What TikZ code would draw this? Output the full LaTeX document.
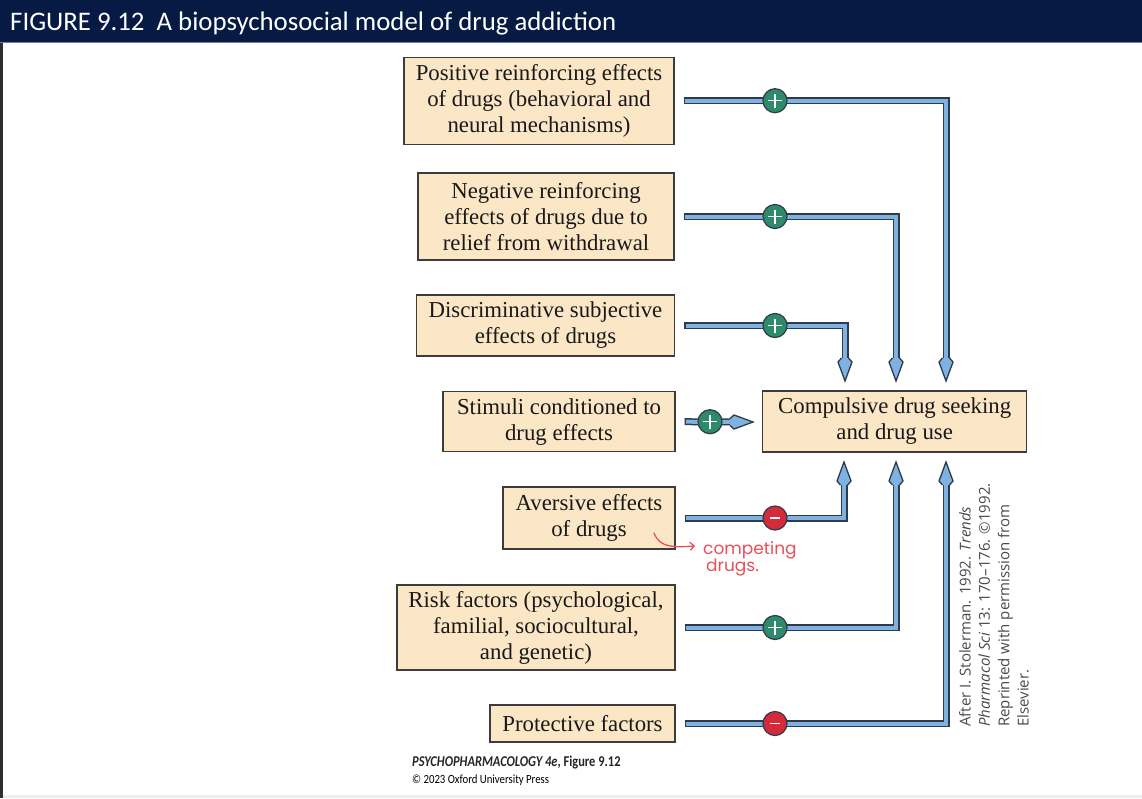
\documentclass[tikz,border=0pt]{standalone}
\usepackage{fontspec}
\usepackage{graphicx}
\setmainfont{Liberation Serif}
\newfontfamily\carlito{Carlito}
\newfontfamily\opensans{Open Sans}
\newfontfamily\handfont{Poppins}
\usetikzlibrary{calc,arrows.meta}
\definecolor{navy}{HTML}{061A44}
\definecolor{boxfill}{HTML}{FBE6C6}
\definecolor{boxdraw}{HTML}{3C3C3C}
\definecolor{pipefill}{HTML}{7FB2E0}
\definecolor{pipeedge}{HTML}{2E3B4A}
\definecolor{plusgreen}{HTML}{2F8A6C}
\definecolor{minusred}{HTML}{D42B3A}
\definecolor{annot}{HTML}{E8505A}
\definecolor{credgray}{HTML}{4A4A4A}
\tikzset{
  box/.style={draw=boxdraw, fill=boxfill, line width=1.1pt, align=center,
    font=\fontsize{22.8}{26}\selectfont, inner sep=0pt, text=black!90},
  pipe/.style={draw=pipefill, line width=4pt, shorten <=1.5pt,
    preaction={draw=pipeedge, line width=7pt, shorten <=0pt}},
  signnode/.style={circle, minimum size=24pt, inner sep=0pt, draw=pipeedge, line width=1.2pt},
  plus/.style={signnode, fill=plusgreen,
    path picture={\draw[white, line width=1.5pt]
      ([xshift=-7pt]path picture bounding box.center) -- ([xshift=7pt]path picture bounding box.center)
      ([yshift=-7pt]path picture bounding box.center) -- ([yshift=7pt]path picture bounding box.center);}},
  minus/.style={signnode, fill=minusred,
    path picture={\draw[white, line width=1.8pt]
      ([xshift=-5pt]path picture bounding box.center) -- ([xshift=5pt]path picture bounding box.center);}},
  arrowdown/.pic={
    \fill[pipefill] (0,0) -- (-7,-19) -- (-3.5,-23) -- (3.5,-23) -- (7,-19) -- cycle;
    \draw[pipeedge, line width=1.3pt, line join=miter] (-3.5,-23) -- (-7,-19) -- (0,0) -- (7,-19) -- (3.5,-23);},
  arrowup/.pic={
    \fill[pipefill] (0,0) -- (-7,19) -- (-3.5,23) -- (3.5,23) -- (7,19) -- cycle;
    \draw[pipeedge, line width=1.3pt, line join=miter] (-3.5,23) -- (-7,19) -- (0,0) -- (7,19) -- (3.5,23);},
  arrowright/.pic={
    \fill[pipefill] (0,0) -- (-19,-7) -- (-23,-3.5) -- (-23,3.5) -- (-19,7) -- cycle;
    \draw[pipeedge, line width=1.3pt, line join=miter] (-23,-3.5) -- (-19,-7) -- (0,0) -- (-19,7) -- (-23,3.5);},
  credit/.style={font=\opensans\fontsize{15}{19.3}\selectfont, text=credgray, align=left, inner sep=0pt},
  hand/.style={font=\handfont\fontsize{17}{17}\selectfont, text=annot, inner sep=0pt},
}
\begin{document}
\begin{tikzpicture}[x=1pt,y=-1pt]
\useasboundingbox (0,0) rectangle (1142,798);
\fill[white] (0,0) rectangle (1142,798);
\fill[navy] (0,0) rectangle (1142,43);
\draw[navy!55, line width=0.8pt] (0,42.6) -- (1142,42.6);
\fill[black!82] (0,43) rectangle (3,798);
\fill[black!7] (3,795) rectangle (1142,798);

\node[anchor=base west, text=white, font=\carlito\fontsize{26.8}{26.8}\selectfont, inner sep=0pt]
  (title) at (10,30) {FIGURE 9.12\hspace{0.45em}A biopsychosocial model of drug addiction};

% boxes
\node[box, minimum width=270pt, minimum height=87pt] (pos) at (539,100.7)
  {Positive reinforcing effects\\of drugs (behavioral and\\neural mechanisms)};
\node[box, minimum width=256pt, minimum height=87pt] (neg) at (546,216.5)
  {Negative reinforcing\\effects of drugs due to\\relief from withdrawal};
\node[box, minimum width=258pt, minimum height=61pt] (dis) at (545.5,325.5)
  {Discriminative subjective\\effects of drugs};
\node[box, minimum width=232pt, minimum height=60pt] (sti) at (559,421.7)
  {Stimuli conditioned to\\drug effects};
\node[box, minimum width=172pt, minimum height=62pt] (ave) at (589,518)
  {Aversive effects\\of drugs};
\node[box, minimum width=278pt, minimum height=85pt] (ris) at (536,627.5)
  {Risk factors (psychological,\\familial, sociocultural,\\and genetic)};
\node[box, minimum width=185pt, minimum height=37pt] (pro) at (582.5,723.5)
  {Protective factors};
\node[box, minimum width=264pt, minimum height=61pt] (com) at (894.7,421.5)
  {Compulsive drug seeking\\and drug use};

% arrow tips
\coordinate (tP) at (946,381);
\coordinate (tN) at (896,381);
\coordinate (tD) at (845,381);
\coordinate (tS) at (753,422);
\coordinate (tA) at (844,462);
\coordinate (tR) at (896,462);
\coordinate (tPr) at (946,462);

% pipes
\draw[pipe] ($(pos.east)+(9,0)$) -| ($(tP)+(0,-18)$);
\draw[pipe] ($(neg.east)+(9,0)$) -| ($(tN)+(0,-18)$);
\draw[pipe] ($(dis.east)+(9,0)$) -| ($(tD)+(0,-18)$);
\draw[pipe] ($(sti.east)+(9,0)$) -- ($(tS)+(-18,0)$);
\draw[pipe] ($(ave.east)+(9,0)$) -| ($(tA)+(0,18)$);
\draw[pipe] ($(ris.east)+(9,0)$) -| ($(tR)+(0,18)$);
\draw[pipe] ($(pro.east)+(9,0)$) -| ($(tPr)+(0,18)$);

\pic at (tP) {arrowdown};
\pic at (tN) {arrowdown};
\pic at (tD) {arrowdown};
\pic at (tS) {arrowright};
\pic at (tA) {arrowup};
\pic at (tR) {arrowup};
\pic at (tPr) {arrowup};

% signs
\node[plus] (s1) at (pos.east -| 775,0) {};
\node[plus] (s2) at (neg.east -| 775,0) {};
\node[plus] (s3) at (dis.east -| 775,0) {};
\node[plus] (s4) at (sti.east -| 710,0) {};
\node[minus] (s5) at (ave.east -| 775,0) {};
\node[plus] (s6) at (ris.east -| 775,0) {};
\node[minus] (s7) at (pro.east -| 775,0) {};

% credit
\node[credit, rotate=90, anchor=north west] (cred) at (959,727)
  {After I. Stolerman. 1992. \textit{Trends}\\\textit{Pharmacol Sci} 13: 170–176. ©1992.\\Reprinted with permission from\\Elsevier.};

% handwritten note
\coordinate (a1) at (654,533);
\coordinate (a2) at (695,546);
\draw[annot, line width=1.3pt, line cap=round, -{Straight Barb[length=4pt,width=8pt]}]
  (a1) .. controls (660,549) and (676,547) .. (a2);
\node[hand, anchor=base west] (ann1) at (703,554) {competing};
\node[hand, anchor=base west] (ann2) at (706,571) {drugs.};

% footer
\node[anchor=base west, inner sep=0pt, font=\carlito\bfseries\fontsize{15}{15}\selectfont, text=black!85] (foot1) at (412,766)
  {\scalebox{0.83}[1]{\textit{PSYCHOPHARMACOLOGY 4e}, Figure 9.12}};
\node[anchor=base west, inner sep=0pt, font=\carlito\fontsize{12.5}{12.5}\selectfont, text=black] (foot2) at (412,783)
  {\scalebox{0.86}[1]{© 2023 Oxford University Press}};
\end{tikzpicture}
\end{document}
